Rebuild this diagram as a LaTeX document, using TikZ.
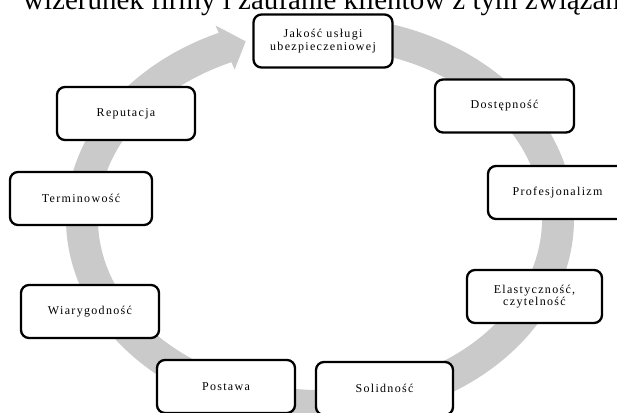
\documentclass[tikz,border=0pt]{standalone}
\usepackage{fontspec}
\setmainfont{Liberation Serif}
\newfontfamily\boxfont[LetterSpace=11]{Liberation Serif}
\usetikzlibrary{calc}
\definecolor{ringgray}{RGB}{202,202,202}
\begin{document}
\begin{tikzpicture}[x=1pt,y=1pt,
  stage/.style={draw=black, line width=2.3pt, rounded corners=8pt, fill=white,
    minimum width=139pt, minimum height=53pt, inner sep=0pt, align=center,
    font=\boxfont\fontsize{12}{12.5}\selectfont}]
\useasboundingbox (0,0) rectangle (617,-412);
\clip (0,0) rectangle (617,-412);
\fill[white] (0,0) rectangle (617,-412);
\node[anchor=base west, inner sep=0pt, font=\fontsize{29}{30}\selectfont] (title) at (23,-9.5) {wizerunek firmy i zaufanie klientów z tym związany};
\coordinate (c) at (320,-219);
\fill[ringgray] ($(c)+(90:254 and 203)$)
  arc[start angle=90, end angle=-246.5, x radius=254, y radius=203]
  -- ($(c)+(-246.5:262 and 211)$)
  -- ($(c)+(-251.8:238 and 187)$)
  -- ($(c)+(-246.5:214 and 163)$)
  -- ($(c)+(-246.5:222 and 171)$)
  arc[start angle=-246.5, end angle=90, x radius=222, y radius=171]
  -- cycle;
\node[stage] (jakosc) at (323,-41) {Jakość usługi\\ubezpieczeniowej};
\node[stage] (dostep) at (504.5,-106) {Dostępność};
\node[stage] (prof) at (557.5,-192.5) {Profesjonalizm};
\node[stage, minimum width=135pt] (elast) at (534.5,-296.5) {Elastyczność,\\czytelność};
\node[stage, minimum width=137pt] (solid) at (384.5,-388.5) {Solidność};
\node[stage, minimum width=138pt] (postawa) at (226,-386.5) {Postawa};
\node[stage, minimum width=138pt] (wiary) at (90,-311.5) {Wiarygodność};
\node[stage, minimum width=142pt] (termin) at (81,-198.5) {Terminowość};
\node[stage, minimum width=138pt] (reput) at (126,-113.5) {Reputacja};
\end{tikzpicture}
\end{document}
